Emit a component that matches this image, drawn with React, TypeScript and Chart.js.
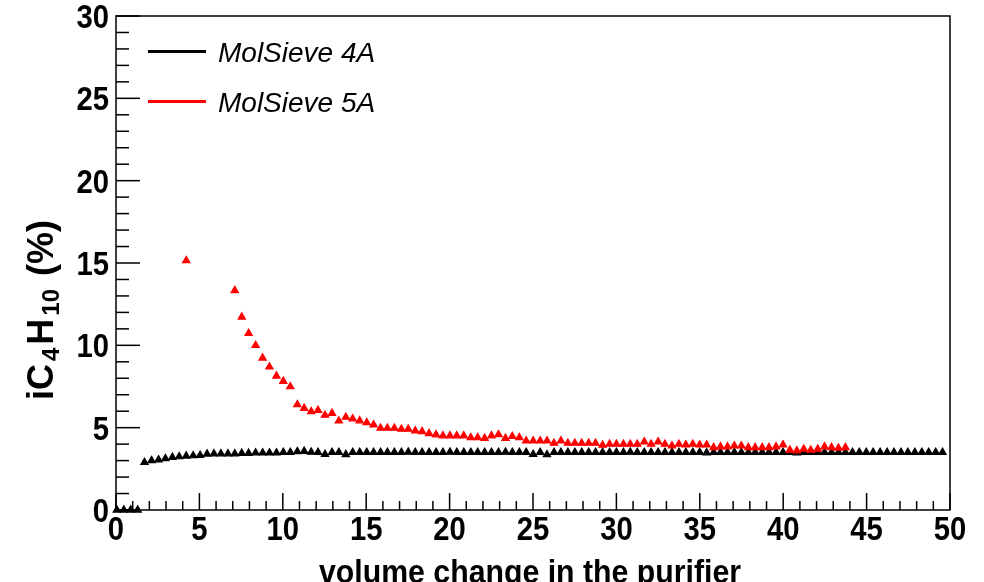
import React, { useEffect, useRef } from "react";
import { Chart, registerables } from "chart.js";

Chart.register(...registerables);

// sampling points (volume change in the purifier)
const volume = [
  0.05, 0.47, 0.88, 1.30, 1.71, 2.13, 2.55, 2.96, 3.38, 3.79,
  4.21, 4.63, 5.04, 5.46, 5.87, 6.29, 6.71, 7.12, 7.54, 7.95,
  8.37, 8.79, 9.20, 9.62, 10.03, 10.45, 10.87, 11.28, 11.70, 12.11,
  12.53, 12.95, 13.36, 13.78, 14.19, 14.61, 15.03, 15.44, 15.86, 16.27,
  16.69, 17.11, 17.52, 17.94, 18.35, 18.77, 19.19, 19.60, 20.02, 20.43,
  20.85, 21.27, 21.68, 22.10, 22.51, 22.93, 23.35, 23.76, 24.18, 24.59,
  25.01, 25.43, 25.84, 26.26, 26.67, 27.09, 27.51, 27.92, 28.34, 28.75,
  29.17, 29.59, 30.00, 30.42, 30.83, 31.25, 31.67, 32.08, 32.50, 32.91,
  33.33, 33.75, 34.16, 34.58, 34.99, 35.41, 35.83, 36.24, 36.66, 37.07,
  37.49, 37.91, 38.32, 38.74, 39.15, 39.57, 39.99, 40.40, 40.82, 41.23,
  41.65, 42.07, 42.48, 42.90, 43.31, 43.73, 44.15, 44.56, 44.98, 45.39,
  45.81, 46.23, 46.64, 47.06, 47.47, 47.89, 48.31, 48.72, 49.14, 49.55,
];

const molSieve4A = [
  0, 0, 0, 0, 2.89, 3.0, 3.05, 3.12, 3.2, 3.24,
  3.28, 3.3, 3.32, 3.4, 3.42, 3.42, 3.42, 3.42, 3.45, 3.45,
  3.47, 3.47, 3.47, 3.47, 3.5, 3.5, 3.55, 3.57, 3.52, 3.5,
  3.38, 3.5, 3.5, 3.37, 3.5, 3.5, 3.5, 3.5, 3.5, 3.5,
  3.5, 3.5, 3.52, 3.5, 3.5, 3.5, 3.5, 3.5, 3.52, 3.5,
  3.5, 3.5, 3.5, 3.5, 3.5, 3.5, 3.52, 3.5, 3.5, 3.5,
  3.38, 3.5, 3.36, 3.5, 3.5, 3.5, 3.5, 3.5, 3.5, 3.5,
  3.5, 3.5, 3.5, 3.5, 3.52, 3.5, 3.5, 3.5, 3.5, 3.5,
  3.5, 3.5, 3.5, 3.5, 3.5, 3.48, 3.5, 3.5, 3.5, 3.5,
  3.5, 3.5, 3.5, 3.5, 3.5, 3.5, 3.5, 3.5, 3.48, 3.5,
  3.5, 3.5, 3.5, 3.5, 3.5, 3.5, 3.5, 3.5, 3.5, 3.5,
  3.5, 3.5, 3.5, 3.5, 3.5, 3.5, 3.5, 3.5, 3.5, 3.5,
];

const molSieve5A: (number | null)[] = [
  null, null, null, null, null, null, null, null, null, null,
  15.15, null, null, null, null, null, null, 13.33, 11.72, 10.73,
  10.0, 9.23, 8.69, 8.14, 7.82, 7.49, 6.4, 6.18, 5.98, 6.06,
  5.76, 5.88, 5.41, 5.64, 5.54, 5.42, 5.31, 5.17, 4.97, 4.97,
  4.97, 4.91, 4.91, 4.81, 4.77, 4.65, 4.57, 4.51, 4.51, 4.51,
  4.51, 4.4, 4.4, 4.36, 4.51, 4.58, 4.36, 4.47, 4.4, 4.2,
  4.2, 4.2, 4.2, 4.06, 4.2, 4.06, 4.06, 4.06, 4.06, 4.06,
  3.94, 4.0, 4.0, 4.0, 4.0, 4.0, 4.14, 4.0, 4.14, 4.0,
  3.9, 4.0, 3.96, 4.0, 3.96, 3.96, 3.8, 3.84, 3.84, 3.9,
  3.9, 3.8, 3.8, 3.8, 3.8, 3.84, 3.96, 3.64, 3.6, 3.7,
  3.64, 3.7, 3.84, 3.8, 3.76, 3.8, null, null, null, null,
  null, null, null, null, null, null, null, null, null, null,
];

const seriesNames = ["MolSieve 4A", "MolSieve 5A"];
const seriesColors = ["#000000", "#ff0000"];
const xTickLabels = ["0", "5", "10", "15", "20", "25", "30", "35", "40", "45", "50"];
const yTickLabels = ["0", "5", "10", "15", "20", "25", "30"];
const xTitle = "volume change in the purifier";
const yTitleParts = [
  { t: "iC", sub: false },
  { t: "4", sub: true },
  { t: "H", sub: false },
  { t: "10", sub: true },
  { t: " (%)", sub: false },
];

const FONT = '"Liberation Sans", Arial, Helvetica, sans-serif';

function drawScaledText(
  ctx: CanvasRenderingContext2D,
  text: string,
  x: number,
  y: number,
  align: CanvasTextAlign,
  sx: number
) {
  ctx.save();
  ctx.translate(x, y);
  ctx.scale(sx, 1);
  ctx.textAlign = align;
  ctx.textBaseline = "alphabetic";
  ctx.fillText(text, 0, 0);
  ctx.restore();
}

const rootFrame = {
  id: "rootFrame",
  beforeDatasetsDraw(chart: any) {
    const { ctx, chartArea: a, scales } = chart;
    const xs = scales.x;
    const ys = scales.y;
    ctx.save();
    ctx.strokeStyle = "#000";
    ctx.fillStyle = "#000";
    ctx.lineWidth = 1.5;
    ctx.strokeRect(a.left, a.top, a.right - a.left, a.bottom - a.top);

    // y ticks
    for (let v = ys.min; v <= ys.max; v += 1) {
      const py = ys.getPixelForValue(v);
      const major = v % 5 === 0;
      ctx.beginPath();
      ctx.moveTo(a.left, py);
      ctx.lineTo(a.left + (major ? 24 : 13), py);
      ctx.stroke();
    }
    // x ticks
    for (let v = xs.min; v <= xs.max; v += 1) {
      const px = xs.getPixelForValue(v);
      const major = v % 5 === 0;
      ctx.beginPath();
      ctx.moveTo(px, a.bottom);
      ctx.lineTo(px, a.bottom - (major ? 17 : 9));
      ctx.stroke();
    }

    ctx.font = `bold 34px ${FONT}`;
    yTickLabels.forEach((lab) => {
      const py = ys.getPixelForValue(Number(lab));
      drawScaledText(ctx, lab, a.left - 7, py + 12, "right", 0.86);
    });
    xTickLabels.forEach((lab) => {
      const px = xs.getPixelForValue(Number(lab));
      drawScaledText(ctx, lab, px, 540, "center", 0.86);
    });

    // x title
    ctx.font = `bold 34px ${FONT}`;
    drawScaledText(ctx, xTitle, (a.left + a.right) / 2 - 3, 583, "center", 0.89);

    // y title (rotated, with subscripts)
    ctx.save();
    ctx.translate(53, 400);
    ctx.rotate(-Math.PI / 2);
    ctx.textAlign = "left";
    ctx.textBaseline = "alphabetic";
    let cx = 0;
    yTitleParts.forEach((p) => {
      if (p.sub) {
        cx += 3;
        ctx.font = `bold 24px ${FONT}`;
        ctx.fillText(p.t, cx, 6);
        cx += ctx.measureText(p.t).width + 3;
      } else {
        ctx.font = `bold 36px ${FONT}`;
        ctx.fillText(p.t, cx, 0);
        cx += ctx.measureText(p.t).width;
      }
    });
    ctx.restore();

    // legend
    ctx.font = `italic 28px ${FONT}`;
    seriesNames.forEach((name, i) => {
      const ly = 51.5 + i * 50;
      ctx.strokeStyle = seriesColors[i];
      ctx.lineWidth = 3;
      ctx.beginPath();
      ctx.moveTo(148, ly);
      ctx.lineTo(206, ly);
      ctx.stroke();
      ctx.fillStyle = "#000";
      ctx.textAlign = "left";
      ctx.textBaseline = "alphabetic";
      ctx.fillText(name, 218, ly + 10);
    });
    ctx.restore();
  },
};

export default function App() {
  const ref = useRef<HTMLCanvasElement | null>(null);

  useEffect(() => {
    if (!ref.current) return;
    const pts4 = volume.map((v, i) => ({ x: v, y: molSieve4A[i] }));
    const pts5 = volume
      .map((v, i) => ({ x: v, y: molSieve5A[i] }))
      .filter((p) => p.y !== null);

    const chart = new Chart(ref.current, {
      type: "scatter",
      data: {
        datasets: [
          {
            label: seriesNames[0],
            data: pts4 as any,
            backgroundColor: seriesColors[0],
            borderColor: seriesColors[0],
            pointStyle: "triangle",
            pointRadius: 4.2,
            pointBorderWidth: 1.2,
            showLine: false,
            clip: false as any,
            order: 1,
          },
          {
            label: seriesNames[1],
            data: pts5 as any,
            backgroundColor: seriesColors[1],
            borderColor: seriesColors[1],
            pointStyle: "triangle",
            pointRadius: 4.2,
            pointBorderWidth: 1.2,
            showLine: false,
            clip: false as any,
            order: 0,
          },
        ],
      },
      options: {
        responsive: false,
        animation: false,
        events: [],
        layout: { padding: { left: 116, right: 34, top: 16, bottom: 72 } },
        scales: {
          x: { type: "linear", min: 0, max: 50, display: false },
          y: { type: "linear", min: 0, max: 30, display: false },
        },
        plugins: {
          legend: { display: false },
          tooltip: { enabled: false },
          title: { display: false },
        },
      },
      plugins: [rootFrame],
    });
    return () => chart.destroy();
  }, []);

  return (
    <div style={{ position: "absolute", left: 0, top: 0, width: 984, height: 582, background: "#fff" }}>
      <canvas ref={ref} width={984} height={582} style={{ display: "block" }} />
    </div>
  );
}
